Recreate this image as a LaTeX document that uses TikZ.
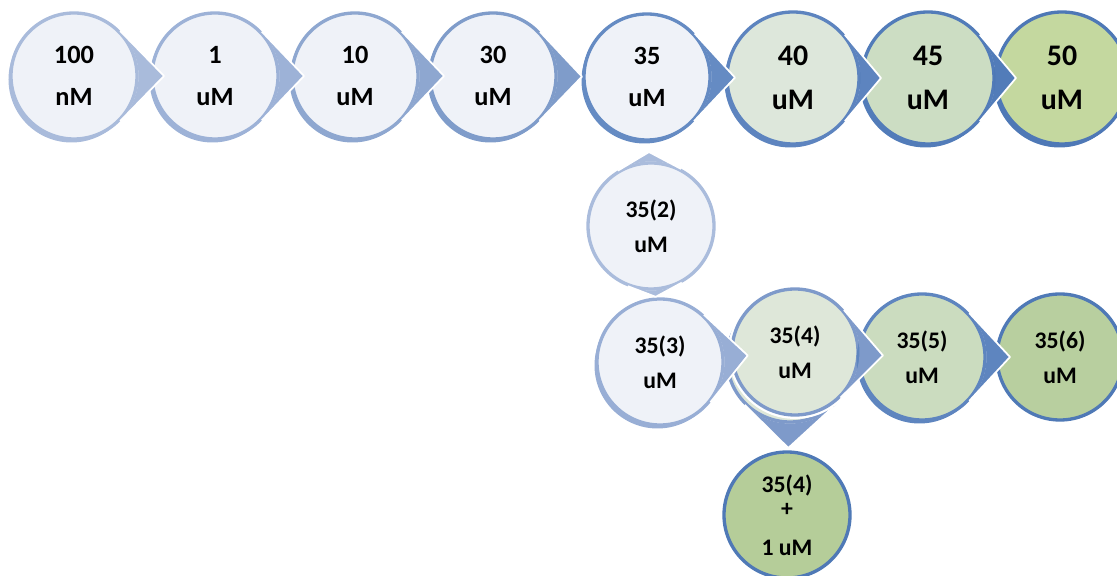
\documentclass[tikz,border=0pt]{standalone}
\usepackage{fontspec}
\setmainfont{Carlito}
\usepackage{xcolor}
\usepackage{tikz}
\usetikzlibrary{calc, shadows}

\definecolor{fillA}{HTML}{EFF2F8}
\definecolor{f40}{HTML}{DDE7DB}
\definecolor{f45}{HTML}{CCDDC3}
\definecolor{f50}{HTML}{C4D89F}
\definecolor{f354}{HTML}{DEE7D9}
\definecolor{f355}{HTML}{CBDCBF}
\definecolor{f356}{HTML}{B8CF9F}
\definecolor{fplus}{HTML}{B5CD99}
\definecolor{o100}{HTML}{A9BBDB}
\definecolor{o1}{HTML}{9DB2D7}
\definecolor{o10}{HTML}{8EA7D0}
\definecolor{o30}{HTML}{7F9CCA}
\definecolor{o35}{HTML}{658BC3}
\definecolor{o40}{HTML}{5D84BF}
\definecolor{o45}{HTML}{527CB9}
\definecolor{o50}{HTML}{4E78B6}
\definecolor{o352}{HTML}{AABCDC}
\definecolor{o353}{HTML}{98AED5}
\definecolor{o354}{HTML}{7E9ACA}
\definecolor{o355}{HTML}{5E85BF}
\definecolor{o356}{HTML}{4F79B6}

\tikzset{
  stage/.style={circle, minimum size=2.52cm, inner sep=0pt, align=center, line width=1.9pt, font=\bfseries\fontsize{15}{24}\selectfont},
  bigstage/.style={stage, minimum size=2.64cm, font=\bfseries\fontsize{17}{25}\selectfont},
  substage/.style={stage, font=\bfseries\fontsize{13.5}{20}\selectfont},
  rim/.style={drop shadow={shadow xshift=-0.05cm, shadow yshift=-0.07cm, fill=#1, opacity=1}},
}

% pointer of a stage: from, to, tip distance (cm), outer radius (cm), colour
\newcommand{\pointer}[5]{%
  \fill[#5] let \p1=($(#2)-(#1)$), \n1={atan2(\y1,\x1)}, \n2={acos(#4/#3)} in
    ($(#1)!#3cm!(#2)$) -- ($(#1)+(\n1+\n2:#4cm)$) arc[start angle=\n1+\n2, end angle=\n1-\n2, radius=#4cm] -- cycle;
  \draw[white, line width=1pt, line join=round] let \p1=($(#2)-(#1)$), \n1={atan2(\y1,\x1)}, \n2={acos(#4/#3)} in
    ($(#1)+(\n1+\n2:#4cm)$) -- ($(#1)!#3cm!(#2)$) -- ($(#1)+(\n1-\n2:#4cm)$);
}

\begin{document}
\begin{tikzpicture}
			\useasboundingbox (0, 0) rectangle (22.34, 11.52);
			% Stages of the top row:
			\node[stage, fill=fillA, draw=o100, rim=o100] (n100) at (1.48, 10.00) {100\\nM};
			\node[stage, fill=fillA, draw=o1, rim=o1] (n1) at (4.30, 10.00) {1\\uM};
			\node[stage, fill=fillA, draw=o10, rim=o10] (n10) at (7.10, 10.00) {10\\uM};
			\node[stage, fill=fillA, draw=o30, rim=o30] (n30) at (9.86, 10.00) {30\\uM};
			\node[stage, fill=fillA, draw=o35, rim=o35] (n35) at (12.94, 9.98) {35\\uM};
			\node[bigstage, fill=f40, draw=o40, rim=o40] (n40) at (15.86, 9.96) {40\\uM};
			\node[bigstage, fill=f45, draw=o45, rim=o45] (n45) at (18.56, 9.96) {45\\uM};
			\node[bigstage, fill=f50, draw=o50, rim=o50] (n50) at (21.24, 9.96) {50\\uM};
			% Stages below 35 uM:
			\node[substage, fill=fillA, draw=o352] (n352) at (13.02, 7.00) {35(2)\\uM};
			\node[substage, fill=fillA, draw=o353, rim=o353] (n353) at (13.20, 4.28) {35(3)\\uM};
			\node[substage, fill=f354, draw=o354] (n354b) at (15.80, 4.34) {};
			\node[substage, fill=f354, draw=o354, preaction={draw=white, line width=4.5pt}] (n354) at (15.90, 4.48) {35(4)\\uM};
			\node[substage, fill=f355, draw=o355, rim=o355] (n355) at (18.44, 4.38) {35(5)\\uM};
			\node[substage, fill=f356, draw=o356] (n356) at (21.20, 4.38) {35(6)\\uM};
			\node[substage, fill=fplus, draw=o356] (n354p) at (15.74, 1.22) {35(4)\\[-6pt]+\\[2pt]1 uM};
			% Pointers:
			\pointer{n100}{n1}{1.80}{1.29}{o100}
			\pointer{n1}{n10}{1.78}{1.29}{o1}
			\pointer{n10}{n30}{1.78}{1.29}{o10}
			\pointer{n30}{n35}{1.78}{1.29}{o30}
			\pointer{n35}{n40}{1.76}{1.29}{o35}
			\pointer{n40}{n45}{1.76}{1.35}{o40}
			\pointer{n45}{n50}{1.76}{1.35}{o45}
			\pointer{n352}{n35}{1.48}{1.29}{o352}
			\pointer{n352}{n353}{1.42}{1.29}{o352}
			\pointer{n353}{n354}{1.76}{1.29}{o353}
			\pointer{n354}{n355}{1.76}{1.29}{o354}
			\pointer{n355}{n356}{1.76}{1.29}{o355}
			\pointer{n354b}{n354p}{1.78}{1.29}{o354}
\end{tikzpicture}
\end{document}
